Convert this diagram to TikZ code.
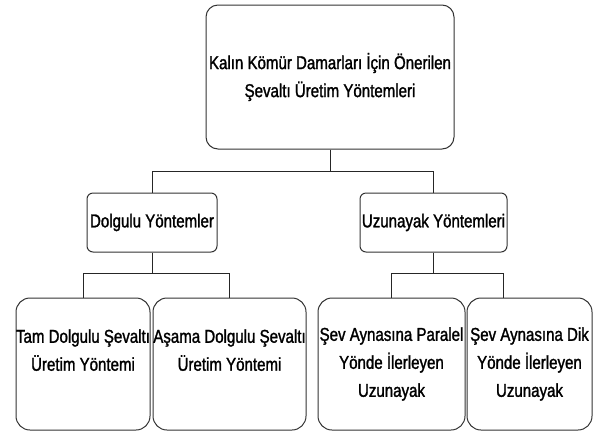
\documentclass[tikz,border=0pt]{standalone}
\usepackage{fontspec}
\setmainfont{Liberation Sans}[FakeStretch=0.81,FakeBold=1.4]
\begin{document}
\begin{tikzpicture}[x=1pt,y=1pt,
  box/.style={draw=black!80,line width=1pt,fill=white,align=center,inner sep=0pt,font=\fontsize{18.6}{28}\selectfont},
  link/.style={draw=black!85,line width=0.9pt}]
\useasboundingbox (0,0) rectangle (593,-432);

% Top level
\node[box,rounded corners=12pt,minimum width=248pt,minimum height=144pt] (top) at (330,-77) {Kalın Kömür Damarları İçin Önerilen\\Şevaltı Üretim Yöntemleri};

% Second level
\node[box,rounded corners=6pt,minimum width=130pt,minimum height=59pt] (dolgu) at (152,-222.5) {Dolgulu Yöntemler};
\node[box,rounded corners=6pt,minimum width=147pt,minimum height=59pt] (uzun) at (433.5,-222.5) {Uzunayak Yöntemleri};

% Third level
\node[box,rounded corners=14pt,minimum width=134pt,minimum height=132pt] (tam) at (83,-364) {Tam Dolgulu Şevaltı\\Üretim Yöntemi\\~};
\node[box,rounded corners=14pt,minimum width=153pt,minimum height=132pt] (asama) at (229.5,-364) {Aşama Dolgulu Şevaltı\\Üretim Yöntemi\\~};
\node[box,rounded corners=14pt,minimum width=147pt,minimum height=132pt] (paralel) at (391.5,-364) {Şev Aynasına Paralel\\Yönde İlerleyen\\Uzunayak};
\node[box,rounded corners=14pt,minimum width=125pt,minimum height=132pt] (dik) at (529.5,-364) {Şev Aynasına Dik\\Yönde İlerleyen\\Uzunayak};

% Connectors
\draw[link] (top.south) -- ++(0,-22) -| (dolgu.north);
\draw[link] (top.south) -- ++(0,-22) -| (uzun.north);
\draw[link] (dolgu.south) -- ++(0,-21) -| (tam.north);
\draw[link] (dolgu.south) -- ++(0,-21) -| (asama.north);
\draw[link] (uzun.south) -- ++(0,-21) -| (paralel.north);
\draw[link] (uzun.south) -- ++(0,-21) -| ([xshift=-26.5pt]dik.north);
\end{tikzpicture}
\end{document}
